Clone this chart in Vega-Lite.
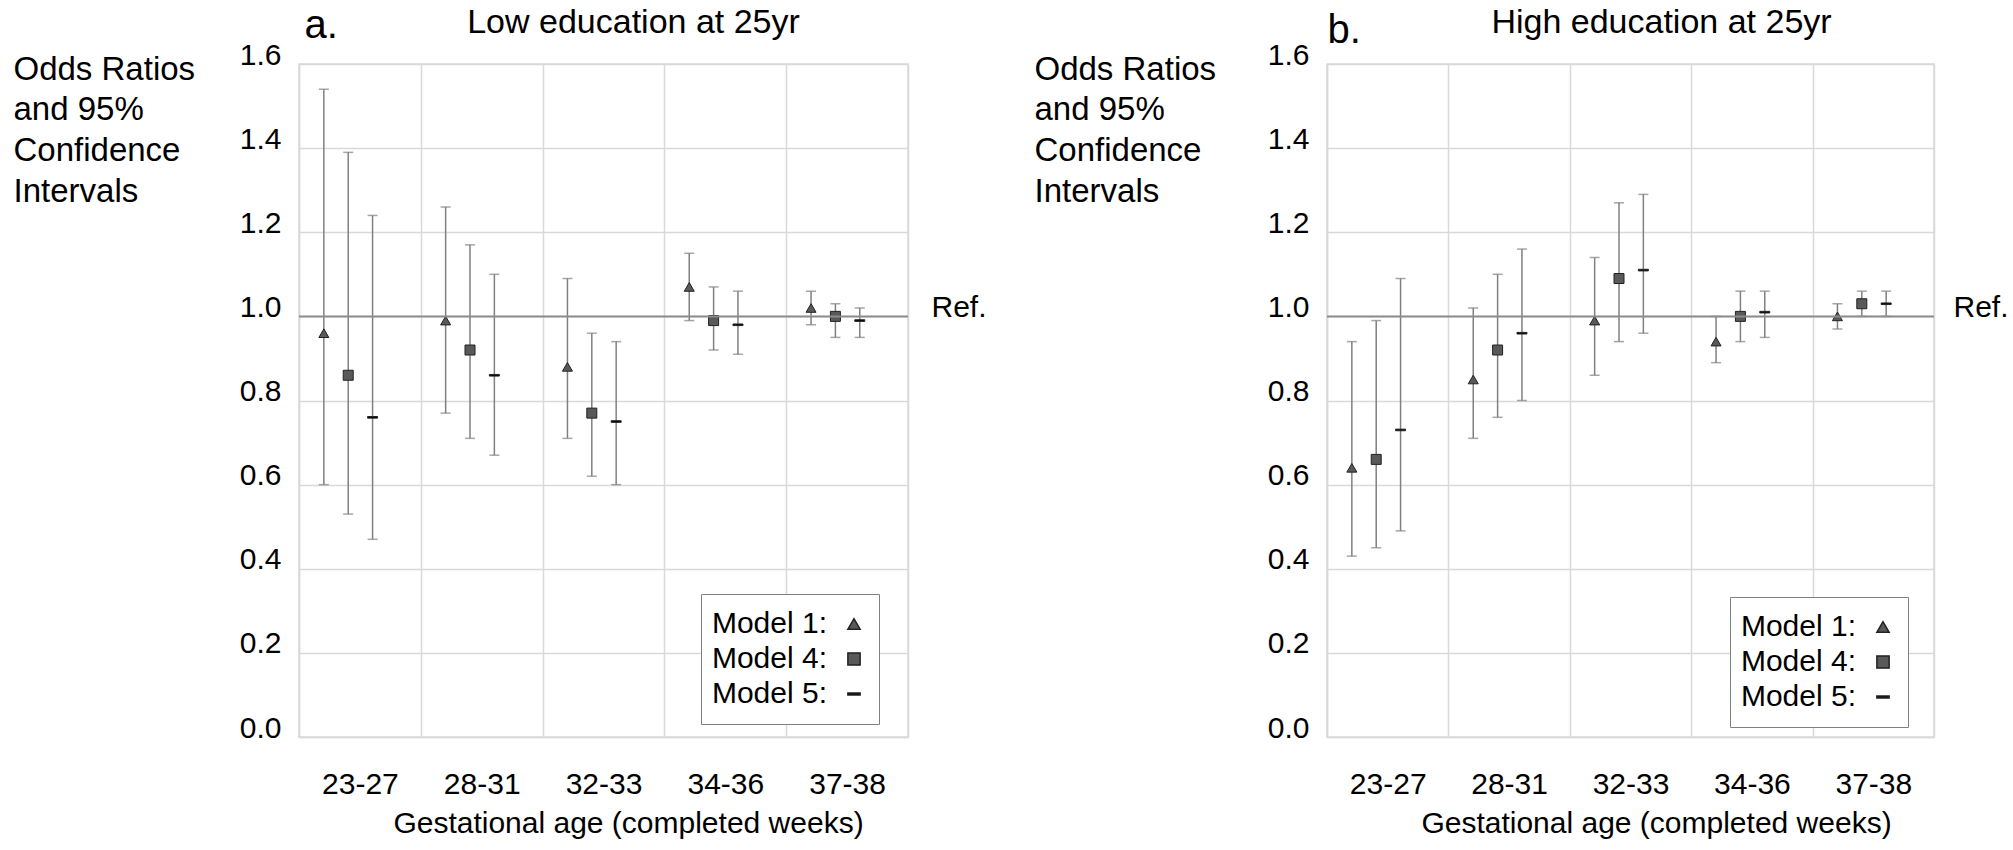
{
  "$schema": "https://vega.github.io/schema/vega-lite/v6.json",
  "padding": {"left": 12, "top": 4, "right": 0, "bottom": 2},
  "bounds": "flush",
  "spacing": 419,
  "resolve": {"scale": {"shape": "independent", "fill": "independent"}, "legend": {"shape": "independent", "fill": "independent"}},
  "config": {
    "font": "Liberation Sans",
    "view": {"stroke": "#d9d9d9", "strokeWidth": 1.5},
    "axis": {"labelColor": "#000", "titleColor": "#000", "labelFont": "Liberation Sans", "titleFont": "Liberation Sans", "titleFontWeight": "normal", "gridColor": "#d9d9d9", "gridWidth": 1.5, "domainColor": "#d9d9d9", "domainWidth": 1.5},
    "legend": {"labelFont": "Liberation Sans", "labelColor": "#000"}
  },
  "datasets": {
    "low": [
      {"age": "23-27", "model": "Model 1", "or": 0.96, "lo": 0.60, "hi": 1.54},
      {"age": "23-27", "model": "Model 4", "or": 0.86, "lo": 0.53, "hi": 1.39},
      {"age": "23-27", "model": "Model 5", "or": 0.76, "lo": 0.47, "hi": 1.24},
      {"age": "28-31", "model": "Model 1", "or": 0.99, "lo": 0.77, "hi": 1.26},
      {"age": "28-31", "model": "Model 4", "or": 0.92, "lo": 0.71, "hi": 1.17},
      {"age": "28-31", "model": "Model 5", "or": 0.86, "lo": 0.67, "hi": 1.10},
      {"age": "32-33", "model": "Model 1", "or": 0.88, "lo": 0.71, "hi": 1.09},
      {"age": "32-33", "model": "Model 4", "or": 0.77, "lo": 0.62, "hi": 0.96},
      {"age": "32-33", "model": "Model 5", "or": 0.75, "lo": 0.60, "hi": 0.94},
      {"age": "34-36", "model": "Model 1", "or": 1.07, "lo": 0.99, "hi": 1.15},
      {"age": "34-36", "model": "Model 4", "or": 0.99, "lo": 0.92, "hi": 1.07},
      {"age": "34-36", "model": "Model 5", "or": 0.98, "lo": 0.91, "hi": 1.06},
      {"age": "37-38", "model": "Model 1", "or": 1.02, "lo": 0.98, "hi": 1.06},
      {"age": "37-38", "model": "Model 4", "or": 1.00, "lo": 0.95, "hi": 1.03},
      {"age": "37-38", "model": "Model 5", "or": 0.99, "lo": 0.95, "hi": 1.02}
    ],
    "high": [
      {"age": "23-27", "model": "Model 1", "or": 0.64, "lo": 0.43, "hi": 0.94},
      {"age": "23-27", "model": "Model 4", "or": 0.66, "lo": 0.45, "hi": 0.99},
      {"age": "23-27", "model": "Model 5", "or": 0.73, "lo": 0.49, "hi": 1.09},
      {"age": "28-31", "model": "Model 1", "or": 0.85, "lo": 0.71, "hi": 1.02},
      {"age": "28-31", "model": "Model 4", "or": 0.92, "lo": 0.76, "hi": 1.10},
      {"age": "28-31", "model": "Model 5", "or": 0.96, "lo": 0.80, "hi": 1.16},
      {"age": "32-33", "model": "Model 1", "or": 0.99, "lo": 0.86, "hi": 1.14},
      {"age": "32-33", "model": "Model 4", "or": 1.09, "lo": 0.94, "hi": 1.27},
      {"age": "32-33", "model": "Model 5", "or": 1.11, "lo": 0.96, "hi": 1.29},
      {"age": "34-36", "model": "Model 1", "or": 0.94, "lo": 0.89, "hi": 1.00},
      {"age": "34-36", "model": "Model 4", "or": 1.00, "lo": 0.94, "hi": 1.06},
      {"age": "34-36", "model": "Model 5", "or": 1.01, "lo": 0.95, "hi": 1.06},
      {"age": "37-38", "model": "Model 1", "or": 1.00, "lo": 0.97, "hi": 1.03},
      {"age": "37-38", "model": "Model 4", "or": 1.03, "lo": 1.00, "hi": 1.06},
      {"age": "37-38", "model": "Model 5", "or": 1.03, "lo": 1.00, "hi": 1.06}
    ]
  },
  "hconcat": [
    {
      "width": 609,
      "height": 673,
      "layer": [
        {
          "data": {"name": "low"},
          "resolve": {"axis": {"x": "independent"}},
          "layer": [
            {
              "mark": {"type": "rule", "color": "#808080", "strokeWidth": 1.5},
              "encoding": {
                "x": {"field": "age", "type": "nominal",
                  "scale": {"domain": ["23-27", "28-31", "32-33", "34-36", "37-38"], "paddingInner": 0, "paddingOuter": 0},
                  "axis": {"orient": "bottom", "title": "Gestational age (completed weeks)", "labelAngle": 0, "tickBand": "extent", "ticks": false, "grid": true, "labelPadding": 56, "labelBaseline": "alphabetic", "labelFontSize": 30, "titleFontSize": 30, "titleX": 329, "titleY": 95, "titleBaseline": "alphabetic", "titleAlign": "center"}},
                "xOffset": {"field": "model", "type": "nominal", "scale": {"domain": ["Model 1", "Model 4", "Model 5"], "paddingInner": 0, "paddingOuter": 1.03, "align": 0.26}},
                "y": {"field": "lo", "type": "quantitative", "title": ["Odds Ratios", "and 95%", "Confidence", "Intervals"],
                  "scale": {"domain": [0, 1.6], "nice": false, "zero": false},
                  "axis": {"values": [0, 0.2, 0.4, 0.6, 0.8, 1.0, 1.2, 1.4, 1.6], "format": ".1f", "ticks": false, "tickSize": 0, "labelPadding": 18, "labelFontSize": 30, "labelBaseline": "alphabetic", "titleAngle": 0, "titleAlign": "left", "titleBaseline": "alphabetic", "titleX": -286, "titleY": 15, "titleFontSize": 33, "titleLineHeight": 40.7}},
                "y2": {"field": "hi"}
              }
            },
            {
              "mark": {"type": "tick", "orient": "horizontal", "size": 10, "thickness": 1.5, "color": "#808080"},
              "encoding": {
                "x": {"field": "age", "type": "nominal", "axis": null},
                "xOffset": {"field": "model", "type": "nominal"},
                "y": {"field": "lo", "type": "quantitative", "title": ["Odds Ratios", "and 95%", "Confidence", "Intervals"]}
              }
            },
            {
              "mark": {"type": "tick", "orient": "horizontal", "size": 10, "thickness": 1.5, "color": "#808080"},
              "encoding": {
                "x": {"field": "age", "type": "nominal", "axis": null},
                "xOffset": {"field": "model", "type": "nominal"},
                "y": {"field": "hi", "type": "quantitative", "title": ["Odds Ratios", "and 95%", "Confidence", "Intervals"]}
              }
            },
            {
              "mark": {"type": "point", "filled": true, "size": 100, "stroke": "#222", "strokeWidth": 1, "opacity": 1},
              "encoding": {
                "x": {"field": "age", "type": "nominal",
                  "axis": {"orient": "top", "title": "Low education at 25yr", "labels": false, "ticks": false, "domain": false, "grid": false, "titleFontSize": 34, "titleX": 334, "titleY": -32, "titleBaseline": "alphabetic", "titleAlign": "center"}},
                "xOffset": {"field": "model", "type": "nominal"},
                "y": {"field": "or", "type": "quantitative", "title": ["Odds Ratios", "and 95%", "Confidence", "Intervals"]},
                "fill": {"field": "model", "type": "nominal", "scale": {"domain": ["Model 1", "Model 4", "Model 5"], "range": ["#595959", "#595959", "#000000"]}, "legend": null},
                "shape": {"field": "model", "type": "nominal",
                  "scale": {"domain": ["Model 1", "Model 4", "Model 5"], "range": ["triangle-up", "square", "M-1,-0.16L1,-0.16L1,0.16L-1,0.16Z"]},
                  "legend": {"title": null, "orient": "none", "legendX": 402, "legendY": 530, "labelExpr": "datum.label + ':'", "labelFontSize": 30, "labelAlign": "right", "strokeColor": "#808080", "fillColor": "#ffffff", "padding": 15, "symbolSize": 150, "symbolOffset": 123, "labelOffset": -42, "rowPadding": 5,
                    "encode": {"symbols": {"update": {"fill": {"value": "#000"}, "stroke": {"value": "#000"}, "opacity": {"value": 1}}}}}}
              }
            }
          ]
        },
        {
          "data": {"values": [{}]},
          "mark": {"type": "rule", "color": "#8c8c8c", "strokeWidth": 2},
          "encoding": {
            "y": {"datum": 1, "type": "quantitative", "scale": {"domain": [0, 1.6], "nice": false, "zero": false},
              "axis": {"orient": "right", "values": [1], "labelExpr": "'Ref.'", "domain": false, "ticks": false, "tickSize": 0, "grid": false, "labelPadding": 23, "labelFontSize": 30, "labelBaseline": "alphabetic", "title": "a.", "titleAngle": 0, "titleAlign": "left", "titleBaseline": "alphabetic", "titleX": -604, "titleY": -27, "titleFontSize": 40}}
          }
        }
      ],
      "resolve": {"scale": {"y": "independent"}}
    },
    {
      "width": 607,
      "height": 673,
      "layer": [
        {
          "data": {"name": "high"},
          "resolve": {"axis": {"x": "independent"}},
          "layer": [
            {
              "mark": {"type": "rule", "color": "#808080", "strokeWidth": 1.5},
              "encoding": {
                "x": {"field": "age", "type": "nominal",
                  "scale": {"domain": ["23-27", "28-31", "32-33", "34-36", "37-38"], "paddingInner": 0, "paddingOuter": 0},
                  "axis": {"orient": "bottom", "title": "Gestational age (completed weeks)", "labelAngle": 0, "tickBand": "extent", "ticks": false, "grid": true, "labelPadding": 56, "labelBaseline": "alphabetic", "labelFontSize": 30, "titleFontSize": 30, "titleX": 329, "titleY": 95, "titleBaseline": "alphabetic", "titleAlign": "center"}},
                "xOffset": {"field": "model", "type": "nominal", "scale": {"domain": ["Model 1", "Model 4", "Model 5"], "paddingInner": 0, "paddingOuter": 1.03, "align": 0.25}},
                "y": {"field": "lo", "type": "quantitative", "title": ["Odds Ratios", "and 95%", "Confidence", "Intervals"],
                  "scale": {"domain": [0, 1.6], "nice": false, "zero": false},
                  "axis": {"values": [0, 0.2, 0.4, 0.6, 0.8, 1.0, 1.2, 1.4, 1.6], "format": ".1f", "ticks": false, "tickSize": 0, "labelPadding": 18, "labelFontSize": 30, "labelBaseline": "alphabetic", "titleAngle": 0, "titleAlign": "left", "titleBaseline": "alphabetic", "titleX": -293, "titleY": 15, "titleFontSize": 33, "titleLineHeight": 40.7}},
                "y2": {"field": "hi"}
              }
            },
            {
              "mark": {"type": "tick", "orient": "horizontal", "size": 10, "thickness": 1.5, "color": "#808080"},
              "encoding": {
                "x": {"field": "age", "type": "nominal", "axis": null},
                "xOffset": {"field": "model", "type": "nominal"},
                "y": {"field": "lo", "type": "quantitative", "title": ["Odds Ratios", "and 95%", "Confidence", "Intervals"]}
              }
            },
            {
              "mark": {"type": "tick", "orient": "horizontal", "size": 10, "thickness": 1.5, "color": "#808080"},
              "encoding": {
                "x": {"field": "age", "type": "nominal", "axis": null},
                "xOffset": {"field": "model", "type": "nominal"},
                "y": {"field": "hi", "type": "quantitative", "title": ["Odds Ratios", "and 95%", "Confidence", "Intervals"]}
              }
            },
            {
              "mark": {"type": "point", "filled": true, "size": 100, "stroke": "#222", "strokeWidth": 1, "opacity": 1},
              "encoding": {
                "x": {"field": "age", "type": "nominal",
                  "axis": {"orient": "top", "title": "High education at 25yr", "labels": false, "ticks": false, "domain": false, "grid": false, "titleFontSize": 34, "titleX": 334, "titleY": -32, "titleBaseline": "alphabetic", "titleAlign": "center"}},
                "xOffset": {"field": "model", "type": "nominal"},
                "y": {"field": "or", "type": "quantitative", "title": ["Odds Ratios", "and 95%", "Confidence", "Intervals"]},
                "fill": {"field": "model", "type": "nominal", "scale": {"domain": ["Model 1", "Model 4", "Model 5"], "range": ["#595959", "#595959", "#000000"]}, "legend": null},
                "shape": {"field": "model", "type": "nominal",
                  "scale": {"domain": ["Model 1", "Model 4", "Model 5"], "range": ["triangle-up", "square", "M-1,-0.16L1,-0.16L1,0.16L-1,0.16Z"]},
                  "legend": {"title": null, "orient": "none", "legendX": 403, "legendY": 533, "labelExpr": "datum.label + ':'", "labelFontSize": 30, "labelAlign": "right", "strokeColor": "#808080", "fillColor": "#ffffff", "padding": 15, "symbolSize": 150, "symbolOffset": 123, "labelOffset": -42, "rowPadding": 5,
                    "encode": {"symbols": {"update": {"fill": {"value": "#000"}, "stroke": {"value": "#000"}, "opacity": {"value": 1}}}}}}
              }
            }
          ]
        },
        {
          "data": {"values": [{}]},
          "mark": {"type": "rule", "color": "#8c8c8c", "strokeWidth": 2},
          "encoding": {
            "y": {"datum": 1, "type": "quantitative", "scale": {"domain": [0, 1.6], "nice": false, "zero": false},
              "axis": {"orient": "right", "values": [1], "labelExpr": "'Ref.'", "domain": false, "ticks": false, "tickSize": 0, "grid": false, "labelPadding": 19, "labelFontSize": 30, "labelBaseline": "alphabetic", "title": "b.", "titleAngle": 0, "titleAlign": "left", "titleBaseline": "alphabetic", "titleX": -607, "titleY": -22, "titleFontSize": 40}}
          }
        }
      ],
      "resolve": {"scale": {"y": "independent"}}
    }
  ]
}
